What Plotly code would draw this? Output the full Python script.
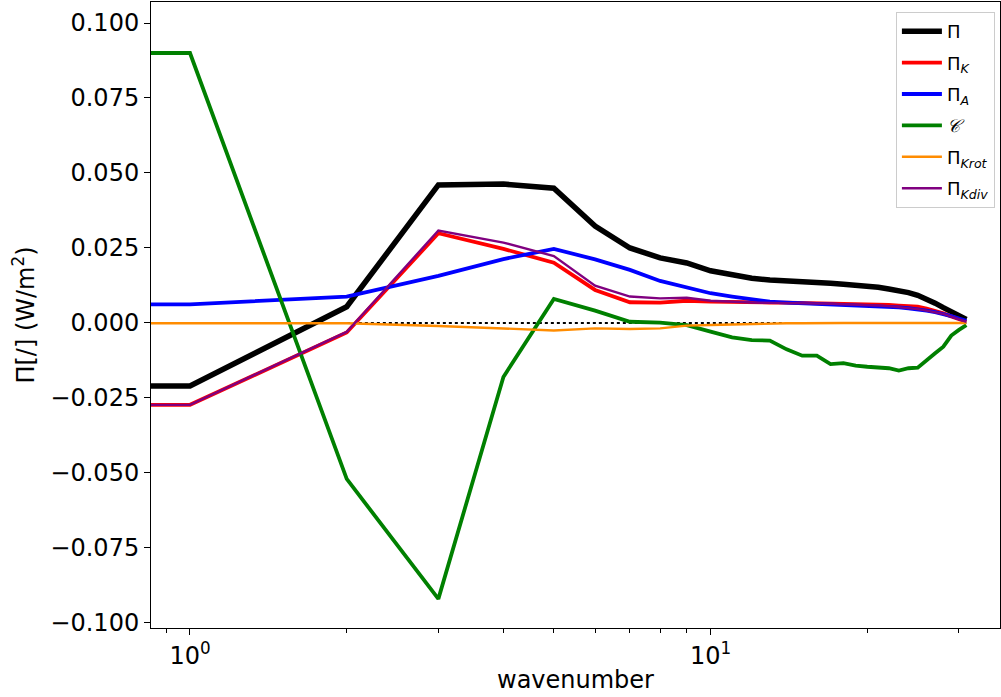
import plotly.graph_objects as go

# wavenumbers (k=0 included; on a log axis it is clipped to a tiny positive value, like matplotlib)
k = list(range(32))

Pi = [-0.021, -0.021, 0.0054, 0.046, 0.0463, 0.0449, 0.0323, 0.025, 0.0217, 0.020, 0.0174,
      0.016, 0.0149, 0.0143, 0.0141, 0.0136, 0.0133, 0.0132, 0.0129, 0.0126, 0.0122,
      0.0119, 0.0113, 0.0109, 0.0101, 0.0092, 0.008, 0.0066, 0.0051, 0.0036, 0.0024, 0.0012]
Pi_K = [-0.0273, -0.0273, -0.0032, 0.0299, 0.0247, 0.0201, 0.011, 0.0069, 0.0068, 0.0074, 0.0071,
        0.0069, 0.0068, 0.0068, 0.0068, 0.0067, 0.0067, 0.0066, 0.0066, 0.0065, 0.0063,
        0.0062, 0.006, 0.0058, 0.0056, 0.0054, 0.0048, 0.0041, 0.0032, 0.0022, 0.0013, 0.0004]
Pi_A = [0.0062, 0.0062, 0.0088, 0.0157, 0.0213, 0.0247, 0.0212, 0.0177, 0.014, 0.0119, 0.0099,
        0.0088, 0.0079, 0.0071, 0.0068, 0.0066, 0.0064, 0.0062, 0.0061, 0.0059, 0.0057,
        0.0055, 0.0053, 0.0052, 0.0049, 0.0046, 0.0041, 0.0036, 0.003, 0.0023, 0.0015, 0.0007]
C = [0.09, 0.09, -0.052, -0.092, -0.018, 0.008, 0.0041, 0.0004, 0.0001, -0.0007, -0.0029,
     -0.0048, -0.0057, -0.0059, -0.0088, -0.0109, -0.0109, -0.0137, -0.0134, -0.0142, -0.0146,
     -0.0148, -0.0151, -0.0159, -0.0151, -0.0149, -0.0123, -0.0101, -0.0079, -0.0042, -0.0023, -0.0007]
Pi_Krot = [0.0, 0.0, -0.0001, -0.001, -0.0018, -0.0025, -0.0018, -0.002, -0.0018, -0.0009, -0.0007,
           -0.0005, -0.0003, -0.0002, -0.0001, -0.0001, 0.0, 0.0, 0.0, 0.0, 0.0,
           0.0, 0.0, 0.0, 0.0, 0.0, 0.0, 0.0, 0.0, 0.0, 0.0, 0.0]
Pi_Kdiv = [-0.0273, -0.0273, -0.003, 0.0308, 0.0268, 0.0223, 0.0124, 0.0088, 0.0082, 0.0084, 0.0074,
           0.007, 0.0068, 0.0067, 0.0067, 0.0066, 0.0065, 0.0064, 0.0063, 0.0062, 0.006,
           0.0058, 0.0056, 0.0053, 0.005, 0.0046, 0.0041, 0.0036, 0.003, 0.0021, 0.0012, 0.0004]
zero = [0.0] * len(k)

x_tick_vals = [1, 10]
x_tick_text = ["10<sup>0</sup>", "10<sup>1</sup>"]
y_tick_vals = [-0.1, -0.075, -0.05, -0.025, 0.0, 0.025, 0.05, 0.075, 0.1]

xp = [kk if kk > 0 else 1e-30 for kk in k]

FONT = "DejaVu Sans"

fig = go.Figure()
fig.add_trace(go.Scatter(x=xp, y=zero, mode="lines", showlegend=False,
                         line=dict(color="black", width=2, dash="dot")))
series = [
    ("Π", Pi, "black", 5.5),
    ("Π<sub><i>K</i></sub>", Pi_K, "#ff0000", 3.8),
    ("Π<sub><i>A</i></sub>", Pi_A, "#0000ff", 3.8),
    ("<i>𝒞</i>", C, "#008000", 3.8),
    ("Π<sub><i>Krot</i></sub>", Pi_Krot, "#ff8c00", 2.4),
    ("Π<sub><i>Kdiv</i></sub>", Pi_Kdiv, "#800080", 2.4),
]
for i, (name, y, col, w) in enumerate(series):
    fig.add_trace(go.Scatter(x=xp, y=y, mode="lines", name=name, legendgroup=f"g{i}",
                             line=dict(color=col, width=w)))

fig.update_layout(
    width=1001, height=697,
    margin=dict(l=151, r=1, t=2, b=69),
    paper_bgcolor="white", plot_bgcolor="white",
    font=dict(family=FONT, size=24, color="black"),
    legend=dict(x=0.994, y=0.984, xanchor="right", yanchor="top",
                bgcolor="rgba(255,255,255,0.8)", bordercolor="#cccccc", borderwidth=1,
                font=dict(size=18), tracegroupgap=5, itemwidth=40),
    showlegend=True,
)
fig.update_xaxes(
    type="log", range=[-0.0749, 1.556],
    tickvals=x_tick_vals, ticktext=x_tick_text,
    ticks="outside", ticklen=6, tickwidth=1, tickcolor="black",
    minor=dict(tickvals=[0.9, 2, 3, 4, 5, 6, 7, 8, 9, 20, 30], ticks="outside",
               ticklen=3.5, tickwidth=1, tickcolor="black"),
    showline=True, mirror=True, linecolor="black", linewidth=1,
    showgrid=False, zeroline=False,
    title=dict(text="wavenumber", font=dict(size=24), standoff=2),
)
fig.update_yaxes(
    range=[-0.1017, 0.107],
    tickvals=y_tick_vals, tickformat=".3f",
    ticks="outside", ticklen=6, tickwidth=1, tickcolor="black",
    showline=True, mirror=True, linecolor="black", linewidth=1,
    showgrid=False, zeroline=False,
    title=dict(text="Π[/] (W/m<sup>2</sup>)", font=dict(size=24), standoff=8),
)

fig.write_html("out.html")
